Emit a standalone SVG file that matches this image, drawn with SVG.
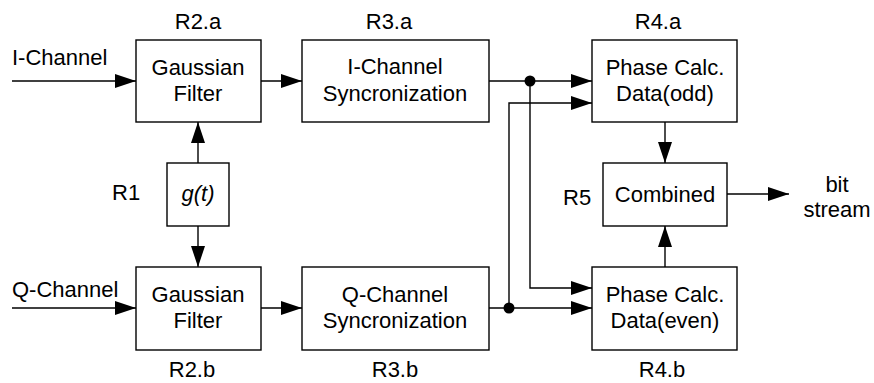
<svg xmlns="http://www.w3.org/2000/svg" width="874" height="383" viewBox="0 0 874 383">
  <style>
    text { font-family: "Liberation Sans", Arial, sans-serif; font-size: 22px; fill: #000; }
    .c { text-anchor: middle; }
    .box { fill: #fff; stroke: #000; stroke-width: 1.4; }
    .wire { fill: none; stroke: #000; stroke-width: 1.4; }
    .arr { marker-end: url(#head); }
  </style>
  <defs>
    <marker id="head" markerUnits="userSpaceOnUse" markerWidth="21" markerHeight="14" viewBox="0 0 21 14" refX="21" refY="7" orient="auto">
      <path d="M0,0 L21,7 L0,14 z" fill="#000"/>
    </marker>
  </defs>

  <!-- connectors -->
  <g id="connectors">
    <path class="wire arr" d="M12,81 H136"/>
    <path class="wire arr" d="M12,308 H136"/>
    <path class="wire arr" d="M198,163 V122"/>
    <path class="wire arr" d="M198,226 V267"/>
    <path class="wire arr" d="M261,81 H302"/>
    <path class="wire arr" d="M261,308 H302"/>
    <path class="wire arr" d="M489,81 H592"/>
    <path class="wire arr" d="M489,308 H592"/>
    <path class="wire arr" d="M530,81 V288 H592"/>
    <path class="wire arr" d="M509,308 V103 H592"/>
    <circle cx="530" cy="81" r="5.5" fill="#000"/>
    <circle cx="509" cy="308" r="5.5" fill="#000"/>
    <path class="wire arr" d="M665,122 V163"/>
    <path class="wire arr" d="M665,267 V226"/>
    <path class="wire arr" d="M727,194 H789"/>
  </g>

  <!-- input labels -->
  <g id="inputs">
    <text x="12" y="65">I-Channel</text>
    <text x="12" y="297">Q-Channel</text>
  </g>

  <g id="gauss-a">
    <rect class="box" x="136" y="40" width="125" height="82"/>
    <text class="c" x="198" y="29">R2.a</text>
    <text class="c" x="198" y="75">Gaussian</text>
    <text class="c" x="198" y="101">Filter</text>
  </g>

  <g id="gauss-b">
    <rect class="box" x="136" y="267" width="125" height="83"/>
    <text class="c" x="192" y="377">R2.b</text>
    <text class="c" x="198" y="302">Gaussian</text>
    <text class="c" x="198" y="328">Filter</text>
  </g>

  <g id="pulse">
    <rect class="box" x="167" y="163" width="62" height="63"/>
    <text x="112" y="200">R1</text>
    <text class="c" x="198" y="201" font-style="italic">g(t)</text>
  </g>

  <g id="sync-i">
    <rect class="box" x="302" y="40" width="187" height="82"/>
    <text class="c" x="389" y="29">R3.a</text>
    <text class="c" x="395" y="74">I-Channel</text>
    <text class="c" x="395" y="101">Syncronization</text>
  </g>

  <g id="sync-q">
    <rect class="box" x="302" y="267" width="187" height="83"/>
    <text class="c" x="395" y="377">R3.b</text>
    <text class="c" x="395" y="302">Q-Channel</text>
    <text class="c" x="395" y="328">Syncronization</text>
  </g>

  <g id="phase-odd">
    <rect class="box" x="592" y="40" width="145" height="82"/>
    <text class="c" x="658" y="29">R4.a</text>
    <text class="c" x="665" y="75">Phase Calc.</text>
    <text class="c" x="665" y="101">Data(odd)</text>
  </g>

  <g id="phase-even">
    <rect class="box" x="592" y="267" width="145" height="83"/>
    <text class="c" x="662" y="377">R4.b</text>
    <text class="c" x="665" y="302">Phase Calc.</text>
    <text class="c" x="665" y="328">Data(even)</text>
  </g>

  <g id="combined">
    <rect class="box" x="603" y="163" width="124" height="63"/>
    <text x="563" y="205">R5</text>
    <text class="c" x="665" y="202">Combined</text>
  </g>

  <g id="output">
    <text class="c" x="837" y="192">bit</text>
    <text class="c" x="837" y="217">stream</text>
  </g>
</svg>
